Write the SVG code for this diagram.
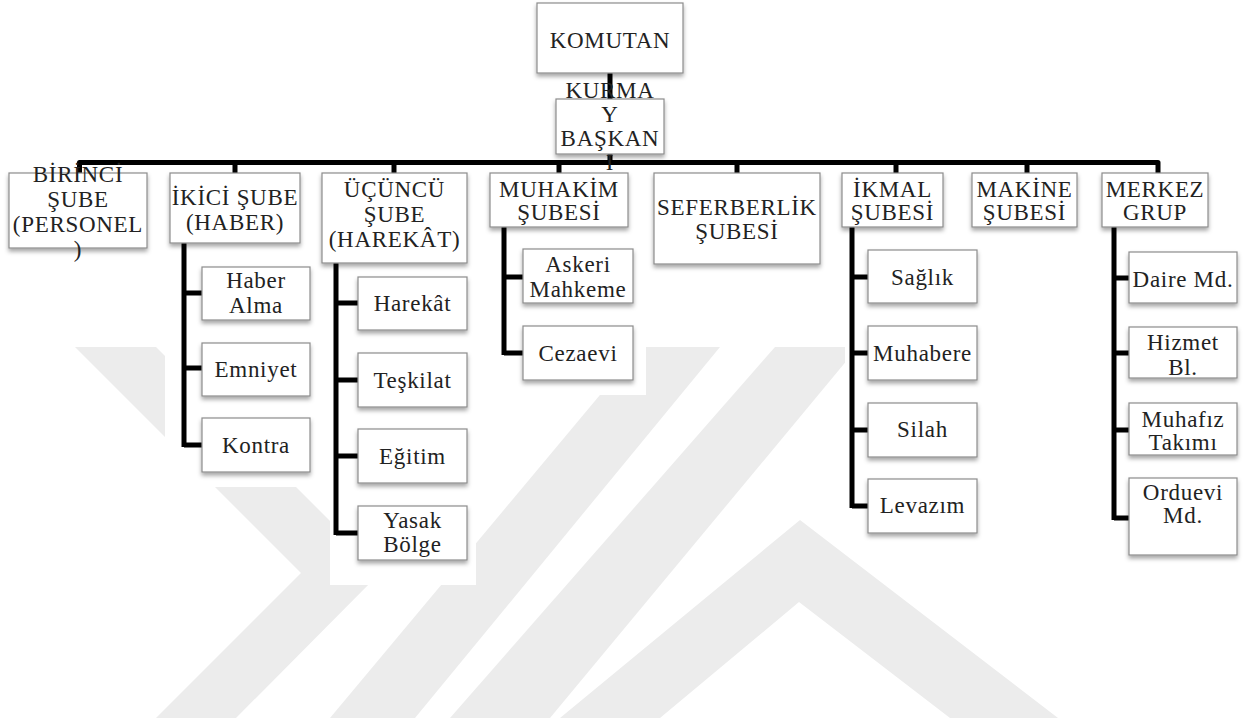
<svg xmlns="http://www.w3.org/2000/svg" width="1246" height="722" viewBox="0 0 1246 722">
<defs>
<filter id="sh" x="-10%" y="-10%" width="120%" height="130%">
<feDropShadow dx="0" dy="3" stdDeviation="2" flood-color="#000" flood-opacity="0.35"/>
</filter>
<style>
.b{fill:#fff;stroke:#8c8c8c;stroke-width:1.2;filter:url(#sh)}
.t{font-family:"Liberation Serif","Times New Roman",serif;font-size:23px;letter-spacing:0.7px;fill:#222;text-anchor:middle}
.c{fill:none;stroke:#000;stroke-width:5;stroke-linejoin:round}
.w{fill:#ececec}
</style>
</defs>
<rect width="1246" height="722" fill="#fff"/>
<g id="watermark">
<polygon class="w" points="75,347 156,347 381,572 236,718 156,718 301,573"/>
<polygon class="w" points="640,347 720,347 415,718 330,718"/>
<polygon class="w" points="775,347 858,347 550,718 450,718"/>
<polygon class="w" points="800,520 1058,718 950,718 799,602 660,718 560,718"/>
<rect x="165" y="250" width="155" height="237" fill="#fff"/>
<rect x="330" y="265" width="146" height="320" fill="#fff"/>
<rect x="500" y="230" width="146" height="165" fill="#fff"/>
<rect x="845" y="230" width="155" height="318" fill="#fff"/>
</g>
<g id="connectors">
<path class="c" d="M610 73V99M610 154V163"/>
<path class="c" d="M79.5 173V162.5H1158V173"/>
<path class="c" d="M235 162.5V173M394 162.5V173M559 162.5V173M737 162.5V173M896 162.5V173M1027 162.5V173"/>
<path class="c" d="M184 243V447M184 293H202M184 368H202M184 445H202"/>
<path class="c" d="M336 263V535M336 303H358M336 380H358M336 456H358M336 533H358"/>
<path class="c" d="M504 227V355M504 277H523M504 353H523"/>
<path class="c" d="M852 227V508M852 277H868M852 353H868M852 430H868M852 506H868"/>
<path class="c" d="M1114 227V520M1114 278H1129M1114 353H1129M1114 430H1129M1114 518H1129"/>
</g>
<g id="komutan"><rect class="b" x="537" y="3" width="146" height="70"/><text class="t" x="610" y="48">KOMUTAN</text></g>
<g id="kurmay"><rect class="b" x="556" y="99" width="108" height="55"/><text class="t" x="610" y="98">KURMA</text><text class="t" x="610" y="122">Y</text><text class="t" x="610" y="146">BAŞKAN</text><text class="t" x="610" y="170">I</text></g>
<g id="birinci"><rect class="b" x="9" y="173" width="138" height="75"/><text class="t" x="78" y="182">BİRİNCİ</text><text class="t" x="78" y="207">ŞUBE</text><text class="t" x="78" y="232">(PERSONEL</text><text class="t" x="78" y="257">)</text></g>
<g id="ikinci"><rect class="b" x="170" y="173" width="130" height="70"/><text class="t" x="235" y="205">İKİCİ ŞUBE</text><text class="t" x="235" y="230">(HABER)</text></g>
<g id="ucuncu"><rect class="b" x="322" y="173" width="145" height="90"/><text class="t" x="394.5" y="197">ÜÇÜNCÜ</text><text class="t" x="394.5" y="222">ŞUBE</text><text class="t" x="394.5" y="247">(HAREKÂT)</text></g>
<g id="muhakim"><rect class="b" x="490" y="173" width="138" height="54"/><text class="t" x="559" y="197">MUHAKİM</text><text class="t" x="559" y="220">ŞUBESİ</text></g>
<g id="seferberlik"><rect class="b" x="654" y="173" width="166" height="91"/><text class="t" x="737" y="215">SEFERBERLİK</text><text class="t" x="737" y="239">ŞUBESİ</text></g>
<g id="ikmal"><rect class="b" x="842" y="173" width="101" height="54"/><text class="t" x="892.5" y="197">İKMAL</text><text class="t" x="892.5" y="220">ŞUBESİ</text></g>
<g id="makine"><rect class="b" x="972" y="173" width="105" height="54"/><text class="t" x="1024.5" y="197">MAKİNE</text><text class="t" x="1024.5" y="220">ŞUBESİ</text></g>
<g id="merkez"><rect class="b" x="1102" y="173" width="106" height="54"/><text class="t" x="1155" y="197">MERKEZ</text><text class="t" x="1155" y="220">GRUP</text></g>
<g id="haberalma"><rect class="b" x="202" y="267" width="108" height="53"/><text class="t" x="256" y="288">Haber</text><text class="t" x="256" y="313">Alma</text></g>
<g id="emniyet"><rect class="b" x="202" y="343" width="108" height="53"/><text class="t" x="256" y="377">Emniyet</text></g>
<g id="kontra"><rect class="b" x="202" y="418" width="108" height="54"/><text class="t" x="256" y="453">Kontra</text></g>
<g id="harekat"><rect class="b" x="358" y="277" width="109" height="53"/><text class="t" x="412.5" y="311">Harekât</text></g>
<g id="teskilat"><rect class="b" x="358" y="353" width="109" height="54"/><text class="t" x="412.5" y="388">Teşkilat</text></g>
<g id="egitim"><rect class="b" x="358" y="429" width="109" height="54"/><text class="t" x="412.5" y="464">Eğitim</text></g>
<g id="yasakbolge"><rect class="b" x="358" y="506" width="109" height="54"/><text class="t" x="412.5" y="528">Yasak</text><text class="t" x="412.5" y="552">Bölge</text></g>
<g id="askerimahkeme"><rect class="b" x="523" y="249" width="110" height="54"/><text class="t" x="578" y="272">Askeri</text><text class="t" x="578" y="297">Mahkeme</text></g>
<g id="cezaevi"><rect class="b" x="523" y="326" width="110" height="54"/><text class="t" x="578" y="361">Cezaevi</text></g>
<g id="saglik"><rect class="b" x="868" y="250" width="109" height="53"/><text class="t" x="922.5" y="285">Sağlık</text></g>
<g id="muhabere"><rect class="b" x="868" y="326" width="109" height="54"/><text class="t" x="922.5" y="361">Muhabere</text></g>
<g id="silah"><rect class="b" x="868" y="403" width="109" height="54"/><text class="t" x="922.5" y="437">Silah</text></g>
<g id="levazim"><rect class="b" x="868" y="479" width="109" height="54"/><text class="t" x="922.5" y="513">Levazım</text></g>
<g id="dairemd"><rect class="b" x="1129" y="252" width="108" height="51"/><text class="t" x="1183" y="287">Daire Md.</text></g>
<g id="hizmetbl"><rect class="b" x="1129" y="327" width="108" height="51"/><text class="t" x="1183" y="350">Hizmet</text><text class="t" x="1183" y="375">Bl.</text></g>
<g id="muhafiz"><rect class="b" x="1129" y="403" width="108" height="52"/><text class="t" x="1183" y="427">Muhafız</text><text class="t" x="1183" y="450">Takımı</text></g>
<g id="orduevi"><rect class="b" x="1129" y="478" width="108" height="77"/><text class="t" x="1183" y="500">Orduevi</text><text class="t" x="1183" y="523">Md.</text></g>
</svg>
